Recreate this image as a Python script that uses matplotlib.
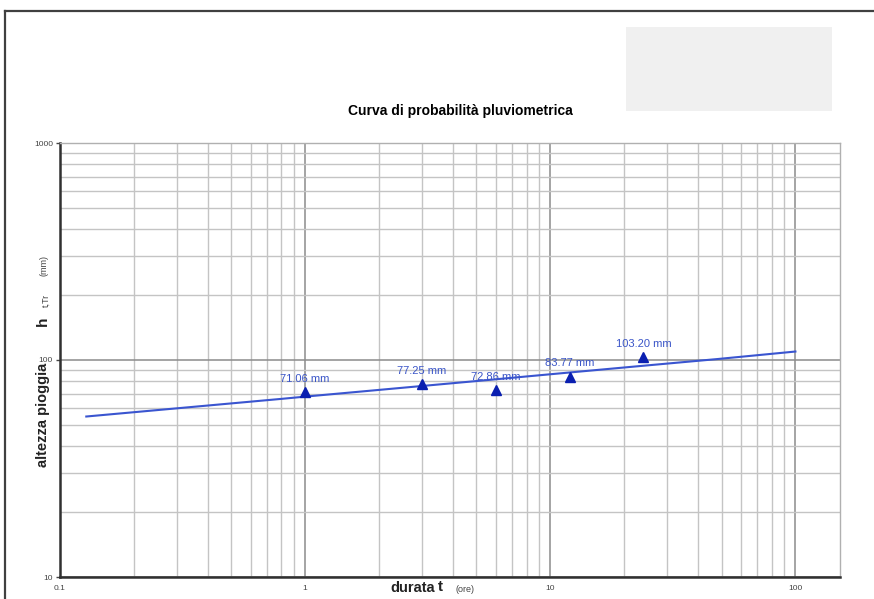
import matplotlib
matplotlib.use('Agg')
import matplotlib.pyplot as plt
from matplotlib.patches import Rectangle
from matplotlib.lines import Line2D
from matplotlib.ticker import LogLocator, NullFormatter, FixedLocator, FixedFormatter
import warnings

warnings.filterwarnings('ignore')

plt.rcParams['font.family'] = ['Liberation Sans Narrow', 'Liberation Sans', 'DejaVu Sans']

# DATI
durate_oss = [1, 3, 6, 12, 24]
altezze_oss = [71.06, 77.25, 72.86, 83.77, 103.20]
etichette_oss = ['71.06 mm', '77.25 mm', '72.86 mm', '83.77 mm', '103.20 mm']

# curva di probabilita'
durate_curva = [0.128, 0.8, 1, 3, 6, 12, 24, 48, 100]
altezze_curva = [54.9, 66.2, 67.8, 75.9, 81.5, 87.6, 94.1, 101.0, 109.4]

tick_x = [0.1, 1, 10, 100]
tick_x_lab = ['0.1', '1', '10', '100']
tick_y = [10, 100, 1000]
tick_y_lab = ['10', '100', '1000']

BLU_LINEA = '#3a55d0'
BLU_MARK = '#0a1fb0'
BLU_TESTO = '#3a55c8'

fig = plt.figure(figsize=(8.74, 5.99), dpi=100)
W, H = 874.0, 599.0

# cornice e riquadro grigio
fig.add_artist(Line2D([5 / W, 1.0], [1 - 11 / H, 1 - 11 / H], color='#404040', lw=1.6))
fig.add_artist(Line2D([5 / W, 5 / W], [0.0, 1 - 11 / H], color='#404040', lw=1.6))
fig.add_artist(Rectangle((626 / W, 1 - 111 / H), 206 / W, 84 / H, color='#f0f0f0', lw=0))

ax = fig.add_axes([60 / W, 1 - 577 / H, 780 / W, 434 / H])
ax.set_xscale('log')
ax.set_yscale('log')
ax.set_xlim(0.1, 152)
ax.set_ylim(10, 1000)

# griglia
ax.xaxis.set_minor_locator(LogLocator(base=10, subs=range(2, 10)))
ax.yaxis.set_minor_locator(LogLocator(base=10, subs=range(2, 10)))
ax.xaxis.set_minor_formatter(NullFormatter())
ax.yaxis.set_minor_formatter(NullFormatter())
ax.xaxis.set_major_locator(FixedLocator(tick_x))
ax.xaxis.set_major_formatter(FixedFormatter(tick_x_lab))
ax.yaxis.set_major_locator(FixedLocator(tick_y))
ax.yaxis.set_major_formatter(FixedFormatter(tick_y_lab))
ax.grid(which='major', color='#8c8c8c', lw=1.1)
ax.grid(which='minor', color='#c4c4c4', lw=1.0)
ax.set_axisbelow(True)

ax.tick_params(which='minor', length=0)
ax.tick_params(axis='x', which='major', length=0, labelsize=6, colors='#444444', pad=6)
ax.tick_params(axis='y', which='major', length=3, width=1, labelsize=6, colors='#444444', pad=2)

for s in ['left', 'bottom']:
    ax.spines[s].set_color('#303030')
    ax.spines[s].set_linewidth(1.8)
for s in ['top', 'right']:
    ax.spines[s].set_color('#b0b0b0')
    ax.spines[s].set_linewidth(1.0)

# curva e punti osservati
ax.plot(durate_curva, altezze_curva, color=BLU_LINEA, lw=1.5, zorder=3)
ax.plot(durate_oss, altezze_oss, linestyle='none', marker='^', ms=6.5,
        color=BLU_MARK, zorder=4)
for t, h, lab in zip(durate_oss, altezze_oss, etichette_oss):
    ax.annotate(lab, (t, h), xytext=(0, 6), textcoords='offset points',
                ha='center', va='bottom', fontsize=8, color=BLU_TESTO, zorder=5)

# titolo
fig.text(460 / W, 1 - 111 / H, 'Curva di probabilità pluviometrica',
         ha='center', va='center', fontsize=10, fontweight='bold')

# etichetta asse y
fig.text(43 / W, 1 - 415 / H, 'altezza pioggia', rotation=90, ha='center',
         va='center', fontsize=10.5, fontweight='bold', color='#222222')
fig.text(43 / W, 1 - 321 / H, 'h', rotation=90, ha='center', va='center',
         fontsize=11, fontweight='bold', color='#222222')
fig.text(46 / W, 1 - 300 / H, 't,Tr', rotation=90, ha='center', va='center',
         fontsize=6.5, color='#444444')
fig.text(44 / W, 1 - 266 / H, '(mm)', rotation=90, ha='center', va='center',
         fontsize=6.5, color='#444444')

# etichetta asse x
fig.text(413 / W, 1 - 588 / H, 'durata', ha='center', va='center',
         fontsize=10.5, fontweight='bold', color='#222222')
fig.text(440 / W, 1 - 587 / H, 't', ha='center', va='center',
         fontsize=11, fontweight='bold', color='#222222')
fig.text(465 / W, 1 - 590 / H, '(ore)', ha='center', va='center',
         fontsize=6.5, color='#444444')

fig.savefig('out.png', dpi=100)
